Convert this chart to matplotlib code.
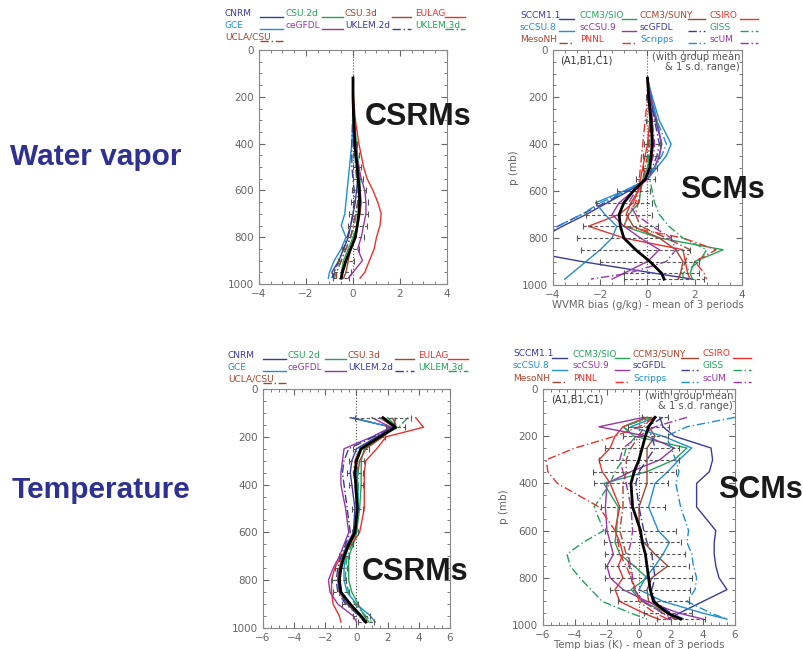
import numpy as np
import matplotlib.pyplot as plt
from matplotlib.ticker import MultipleLocator

W, H = 804, 649
fig = plt.figure(figsize=(W / 100, H / 100), dpi=100)

# ---- colours / line styles
BLUE = '#3b3b9c'
GREEN = '#22a35a'
BROWN = '#a5452e'
RED = '#e8322c'
CYAN = '#1f8fcf'
PURPLE = '#9a35a8'
SOLID = '-'
DASHDOT = (0, (6, 2, 1, 2))

crm_names = ['CNRM', 'CSU.2d', 'CSU.3d', 'EULAG', 'GCE', 'ceGFDL', 'UKLEM.2d', 'UKLEM.3d', 'UCLA/CSU']
crm_colors = [BLUE, GREEN, BROWN, RED, CYAN, PURPLE, BLUE, GREEN, BROWN]
crm_styles = [SOLID] * 6 + [DASHDOT] * 3

scm_names = ['SCCM1.1', 'CCM3/SIO', 'CCM3/SUNY', 'CSIRO', 'scCSU.8', 'scCSU.9',
             'scGFDL', 'GISS', 'MesoNH', 'PNNL', 'Scripps', 'scUM']
scm_colors = [BLUE, GREEN, BROWN, RED, CYAN, PURPLE, BLUE, GREEN, BROWN, RED, CYAN, PURPLE]
scm_styles = [SOLID] * 6 + [DASHDOT] * 6

# ---- pressure levels (mb)
q_levels = [120, 200, 300, 400, 450, 500, 550, 600, 650, 700, 750, 800, 850, 900, 950, 975]
t_levels = [120, 160, 200, 250, 300, 350, 400, 500, 600, 650, 700, 750, 800, 850, 900, 950, 975]

# ---- water vapour bias, CSRMs (g/kg)
q_crm = {
    'CNRM':     [0, 0, 0.05, 0.1, 0.15, 0.2, 0.2, 0.15, 0.1, 0.0, -0.1, -0.2, -0.4, -0.6, -0.9, -0.8],
    'CSU.2d':   [0, 0, 0.05, 0.15, 0.2, 0.25, 0.3, 0.3, 0.3, 0.25, 0.2, 0.0, -0.2, -0.4, -0.5, -0.5],
    'CSU.3d':   [0, 0, 0.05, 0.1, 0.15, 0.2, 0.25, 0.3, 0.35, 0.3, 0.2, 0.1, -0.1, -0.2, -0.3, -0.4],
    'EULAG':    [0, 0.02, 0.1, 0.25, 0.35, 0.45, 0.6, 0.85, 1.05, 1.2, 1.15, 1.0, 0.9, 0.7, 0.5, 0.3],
    'GCE':      [0, 0, 0, -0.05, -0.1, -0.15, -0.2, -0.25, -0.3, -0.35, -0.5, -0.3, -0.5, -0.8, -1.0, -1.05],
    'ceGFDL':   [0, 0, 0.05, 0.1, 0.15, 0.25, 0.35, 0.5, 0.55, 0.55, 0.45, 0.35, 0.2, 0.4, 0.0, -0.2],
    'UKLEM.2d': [0, 0, -0.02, -0.05, -0.05, -0.05, 0, 0.05, 0.05, 0.0, -0.1, -0.25, -0.4, -0.6, -0.8, -0.9],
    'UKLEM.3d': [0, 0, 0.0, 0.05, 0.1, 0.1, 0.15, 0.2, 0.2, 0.15, 0.05, -0.1, -0.3, -0.5, -0.7, -0.8],
    'UCLA/CSU': [0, 0, 0.02, 0.05, 0.1, 0.15, 0.2, 0.25, 0.2, 0.1, 0.0, -0.1, -0.3, -0.5, -0.7, -0.7],
}
q_crm_mean = [0, 0, 0.03, 0.08, 0.12, 0.18, 0.22, 0.27, 0.28, 0.25, 0.18, 0.1, -0.1, -0.3, -0.45, -0.5]
q_crm_sd = [0, 0.01, 0.05, 0.1, 0.13, 0.18, 0.22, 0.3, 0.35, 0.4, 0.4, 0.35, 0.35, 0.35, 0.35, 0.35]

# ---- water vapour bias, SCMs (g/kg)
q_scm = {
    'SCCM1.1':   [0, 0.1, 0.35, 0.6, 0.5, 0.3, 0.0, -0.8, -1.7, -2.6, -3.6, -4.5, -5.5, -2.8, 0.3, 1.9],
    'CCM3/SIO':  [0, 0.1, 0.2, 0.2, 0.15, 0.0, -0.2, -0.3, -0.35, -0.8, -1.0, 0.5, 3.2, 2.0, 1.8, 1.9],
    'CCM3/SUNY': [0, 0.1, 0.2, 0.25, 0.2, 0.1, -0.1, -0.4, -0.7, -0.9, -0.6, 0.5, 1.2, 1.5, 1.4, 1.3],
    'CSIRO':     [0, 0.05, 0.1, 0.0, -0.1, -0.2, -0.3, -0.4, -0.6, -1.2, -2.5, -1.0, 1.5, 1.6, 1.7, 1.8],
    'scCSU.8':   [0, 0.2, 0.5, 1.0, 0.8, 0.4, 0.0, -1.0, -2.2, -1.8, -1.3, -1.5, -2.0, -2.6, -3.2, -3.5],
    'scCSU.9':   [0, 0.15, 0.4, 0.6, 0.5, 0.3, 0.0, -0.6, -1.2, -1.5, -1.0, -0.3, 0.5, 0.0, -1.0, -1.5],
    'scGFDL':    [0, 0.1, 0.3, 0.5, 0.4, 0.2, 0.0, -0.9, -1.8, -2.8, -3.8, -4.4, -5.0, -5.0, -5.0, -5.0],
    'GISS':      [0, 0.05, 0.1, 0.1, 0.05, 0.0, 0.1, 0.2, 0.3, 0.5, 0.9, 1.5, 2.5, 2.2, 1.5, 1.5],
    'MesoNH':    [0, 0.05, 0.1, 0.05, 0.0, -0.1, -0.2, -0.3, -0.4, -0.5, -0.3, 0.8, 1.8, 1.6, 1.4, 1.3],
    'PNNL':      [0, 0.0, -0.1, -0.2, -0.25, -0.3, -0.35, -0.4, -0.5, -0.8, -1.0, 1.5, 2.9, 2.0, 2.4, 2.5],
    'Scripps':   [0, 0.15, 0.4, 0.8, 0.6, 0.3, -0.1, -0.9, -2.0, -2.8, -3.8, -4.5, -5.0, -5.0, -5.0, -5.0],
    'scUM':      [0, 0.1, 0.2, 0.3, 0.25, 0.1, -0.1, -0.5, -0.8, -0.5, 0.2, 1.0, 1.2, 0.8, -0.8, -2.4],
}
q_scm_mean = [0, 0.05, 0.15, 0.2, 0.15, 0.1, -0.1, -0.6, -1.0, -1.2, -1.15, -1.0, -0.5, 0.1, 0.6, 0.7]
q_scm_sd = [0, 0.1, 0.2, 0.35, 0.35, 0.3, 0.4, 0.7, 1.2, 1.4, 1.6, 2.0, 2.3, 2.1, 1.6, 1.7]

# ---- temperature bias, CSRMs (K)
t_crm = {
    'CNRM':     [-0.4, 2.3, 1.3, 0.0, -0.3, -0.4, -0.3, -0.1, -0.2, -0.6, -0.9, -1.1, -1.2, -1.1, -0.6, 0.2, 0.6],
    'CSU.2d':   [2.0, 2.6, 1.6, 0.5, 0.3, 0.3, 0.3, 0.2, 0.0, -0.2, -0.5, -0.5, -0.5, -0.3, 0.1, 0.5, 0.8],
    'CSU.3d':   [1.5, 2.4, 1.7, 0.6, 0.2, 0.1, 0.0, 0.1, 0.0, -0.4, -0.8, -1.0, -1.1, -1.0, -0.5, 0.2, 0.5],
    'EULAG':    [3.8, 4.3, 1.9, 1.3, 0.6, 0.5, 0.5, 0.5, 0.2, -0.3, -1.0, -1.4, -1.6, -1.6, -1.5, -1.1, -1.0],
    'GCE':      [-0.2, 2.2, 1.4, 0.2, 0.0, 0.0, 0.1, 0.1, -0.1, -0.5, -0.7, -0.8, -0.8, -0.6, 0.0, 0.9, 1.2],
    'ceGFDL':   [1.0, 2.2, 1.0, -0.8, -0.9, -1.0, -1.0, -0.7, -0.5, -0.8, -1.1, -1.5, -1.8, -1.7, -1.2, -0.2, 0.0],
    'UKLEM.2d': [2.5, 2.4, 1.1, -0.5, -0.8, -0.9, -0.8, -0.6, -0.4, -0.7, -1.0, -1.2, -1.3, -1.2, -0.7, 0.2, 0.5],
    'UKLEM.3d': [3.3, 2.7, 1.4, 0.2, 0.0, 0.1, 0.1, 0.1, 0.0, -0.3, -0.6, -0.7, -0.7, -0.5, -0.1, 0.6, 1.0],
    'UCLA/CSU': [2.3, 2.6, 1.5, 0.2, -0.1, -0.2, -0.1, 0.0, -0.1, -0.5, -0.9, -1.1, -1.2, -1.1, -0.5, 0.3, 0.7],
}
t_crm_mean = [1.7, 2.5, 1.5, 0.3, 0.0, -0.1, -0.05, 0.05, -0.1, -0.5, -0.8, -1.0, -1.1, -1.0, -0.4, 0.3, 0.6]
t_crm_sd = [1.8, 0.6, 0.3, 0.5, 0.5, 0.5, 0.45, 0.35, 0.2, 0.25, 0.3, 0.4, 0.45, 0.5, 0.5, 0.55, 0.5]

# ---- temperature bias, SCMs (K)
t_scm = {
    'SCCM1.1':   [1.3, 1.5, 2.2, 4.5, 4.6, 4.4, 3.6, 3.6, 4.8, 4.7, 4.7, 4.8, 5.0, 5.5, 4.0, 2.5, 1.8],
    'CCM3/SIO':  [0.5, -1.0, -0.3, 3.0, 2.2, 0.5, -2.2, -1.3, -1.4, -1.5, -1.2, -0.3, 0.5, -0.5, 0.2, 1.8, 2.6],
    'CCM3/SUNY': [1.0, 0.6, 1.0, 0.5, 0.5, 0.5, 0.5, 0.0, 0.0, 0.3, 1.0, 1.8, 0.8, 0.5, 0.6, 1.8, 2.2],
    'CSIRO':     [0.5, -1.0, -1.5, -1.8, -2.5, -2.3, -1.8, -1.2, -1.5, -1.2, -1.0, -1.3, -1.0, -1.5, -1.2, 0.3, 1.2],
    'scCSU.8':   [1.0, -0.5, 1.5, 3.3, 2.5, 1.8, 1.0, 0.6, 1.2, 1.9, 1.5, 1.0, 0.4, 0.0, 1.5, 4.0, 5.5],
    'scCSU.9':   [0.3, -2.5, 0.5, 2.2, 1.3, -0.5, -2.0, -2.1, -2.0, -1.8, -1.6, -2.0, -1.8, -1.0, 0.5, 2.5, 4.0],
    'scGFDL':    [1.5, 0.5, 0.8, 1.0, 0.5, 0.0, -0.2, 0.0, 0.3, 0.5, 0.8, 0.9, 1.0, 0.8, 1.0, 2.0, 2.8],
    'GISS':      [0.8, -1.0, -0.2, -0.8, -1.0, -1.5, -1.8, -2.8, -2.2, -3.5, -4.5, -4.3, -3.7, -3.0, -2.3, -0.5, 0.5],
    'MesoNH':    [0.8, 0.3, 0.0, -0.5, -0.8, -0.8, -1.0, -1.0, -1.2, -1.0, -0.8, -0.6, -0.5, -0.3, 0.2, 1.5, 2.3],
    'PNNL':      [1.0, 0.0, -1.5, -4.0, -5.8, -5.7, -5.1, -2.5, -1.5, -1.3, -1.2, -0.8, -0.5, -0.2, 0.0, 1.0, 1.8],
    'Scripps':   [6.0, 3.0, 1.7, 2.0, 2.3, 2.5, 2.3, 2.6, 3.1, 3.0, 3.3, 3.4, 3.6, 3.5, 3.0, 4.5, 5.5],
    'scUM':      [3.0, 1.0, 0.0, -1.0, -1.2, -1.0, -0.8, -0.5, -0.4, -0.5, -0.7, -0.5, -0.4, -0.3, 0.3, 1.5, 2.0],
}
t_scm_mean = [1.0, 0.6, 0.4, 0.2, 0.0, -0.3, -0.5, -0.4, 0.1, 0.2, 0.4, 0.5, 0.6, 0.7, 0.9, 1.8, 2.6]
t_scm_sd = [0.8, 1.3, 1.4, 2.3, 2.5, 2.6, 2.3, 2.0, 2.2, 2.4, 2.5, 2.6, 2.7, 2.5, 2.2, 1.5, 1.5]

TICK = '#666666'


def px_rect(x0, y0, x1, y1):
    return [x0 / W, 1 - y1 / H, (x1 - x0) / W, (y1 - y0) / H]


def panel(rect, levels, models, names, colors, styles, mean, sd, xmax, xlabel=None, ylabel=None):
    ax = fig.add_axes(px_rect(*rect))
    ax.axvline(0, color='#555555', lw=0.8, ls=':')
    for name, c, ls in zip(names, colors, styles):
        ax.plot(models[name], levels, color=c, lw=1.0, ls=ls)
    eb = ax.errorbar(mean, levels, xerr=sd, fmt='none', ecolor='#555555',
                     elinewidth=0.8, capsize=2, capthick=0.8)
    eb[2][0].set_linestyle((0, (3, 2)))
    ax.plot(mean, levels, color='k', lw=2.0)
    ax.set_xlim(-xmax, xmax)
    ax.set_ylim(1000, 0)
    ax.xaxis.set_major_locator(MultipleLocator(2))
    ax.xaxis.set_minor_locator(MultipleLocator(0.5))
    ax.yaxis.set_major_locator(MultipleLocator(200))
    ax.yaxis.set_minor_locator(MultipleLocator(50))
    ax.tick_params(which='both', direction='in', top=True, right=True,
                   colors=TICK, labelsize=7.5, labelcolor=TICK)
    ax.tick_params(which='major', length=4)
    ax.tick_params(which='minor', length=2)
    for s in ax.spines.values():
        s.set_color('#888888')
        s.set_linewidth(0.8)
    if xlabel:
        ax.set_xlabel(xlabel, fontsize=7.3, color=TICK, labelpad=0)
    if ylabel:
        ax.set_ylabel(ylabel, fontsize=7.5, color=TICK, labelpad=2)
        ax.text(0.04, 0.975, '(A1,B1,C1)', transform=ax.transAxes, fontsize=7,
                color='#333333', ha='left', va='top')
        ax.text(0.99, 0.99, '(with group mean\n& 1 s.d. range)', transform=ax.transAxes,
                fontsize=7.2, color='#555555', ha='right', va='top', linespacing=0.9)
    return ax


def legend(names, colors, styles, x0, y0, text_x, line_x, row_dy=12):
    for i, (name, c, ls) in enumerate(zip(names, colors, styles)):
        r, k = divmod(i, 4)
        y = y0 + r * row_dy
        fig.text((x0 + text_x[k]) / W, 1 - y / H, name, fontsize=6.5, color=c,
                 ha='left', va='center')
        lx0, lx1 = line_x[k]
        fig.add_artist(plt.Line2D([(x0 + lx0) / W, (x0 + lx1) / W],
                                  [1 - (y + 4) / H] * 2, color=c, lw=1.0, ls=ls))


crm_text_x = [0, 60, 120, 190]
crm_line_x = [(35, 58), (97, 118), (167, 186), (220, 240)]
scm_text_x = [0, 60, 120, 190]
scm_line_x = [(39, 54), (102, 116), (168, 185), (220, 238)]

panel((259, 50, 447, 284), q_levels, q_crm, crm_names, crm_colors, crm_styles,
      q_crm_mean, q_crm_sd, 4)
panel((553, 50, 742, 285), q_levels, q_scm, scm_names, scm_colors, scm_styles,
      q_scm_mean, q_scm_sd, 4, xlabel='WVMR bias (g/kg) - mean of 3 periods', ylabel='p (mb)')
panel((263, 389, 450, 628), t_levels, t_crm, crm_names, crm_colors, crm_styles,
      t_crm_mean, t_crm_sd, 6)
panel((543, 389, 735, 625), t_levels, t_scm, scm_names, scm_colors, scm_styles,
      t_scm_mean, t_scm_sd, 6, xlabel='Temp bias (K) - mean of 3 periods', ylabel='p (mb)')

legend(crm_names, crm_colors, crm_styles, 225, 13, crm_text_x, crm_line_x)
legend(crm_names, crm_colors, crm_styles, 228, 355, crm_text_x, crm_line_x)
legend(scm_names, scm_colors, scm_styles, 520, 15, scm_text_x, scm_line_x)
legend(scm_names, scm_colors, scm_styles, 513, 354, scm_text_x, scm_line_x)

TITLE = '#2e3192'
fig.text(10 / W, 1 - 157 / H, 'Water vapor', fontsize=21.5, fontweight='bold',
         color=TITLE, ha='left', va='center', family='Liberation Sans')
fig.text(12 / W, 1 - 490 / H, 'Temperature', fontsize=21.5, fontweight='bold',
         color=TITLE, ha='left', va='center', family='Liberation Sans')
for x, y, s in [(365, 117, 'CSRMs'), (680, 190, 'SCMs'), (362, 572, 'CSRMs'), (718, 490, 'SCMs')]:
    fig.text(x / W, 1 - y / H, s, fontsize=22, fontweight='bold', color='#1a1a1a',
             ha='left', va='center', family='Liberation Sans')

fig.savefig('out.png', dpi=100)
